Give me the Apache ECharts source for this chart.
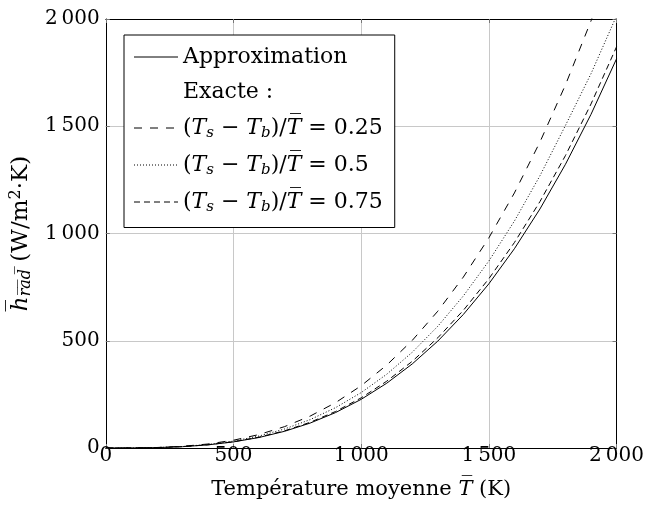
<!DOCTYPE html>
<html>
<head>
<meta charset="utf-8">
<script src="https://cdn.jsdelivr.net/npm/echarts@6/dist/echarts.min.js"></script>
<style>
html,body{margin:0;padding:0;background:#fff;}
#chart{width:647px;height:508px;}
</style>
</head>
<body>
<div id="chart"></div>
<script>
// Temperatures (K)
const temps = [0,100,200,300,400,500,600,700,800,900,1000,1100,1200,1300,1400,1500,1600,1700,1800,1900,2000];
// Approximation (W/m2.K)
const approx = [0,0.23,1.81,6.12,14.5,28.4,49.0,77.8,116.1,165.3,226.8,301.9,391.9,498.3,622.4,765.5,929.0,1114.3,1322.7,1555.7,1814.4];
// Exacte, (Ts-Tb)/T = 0.25  (upper, loosely dashed)
const exact025 = [0,0.29,2.32,7.84,18.6,36.3,62.7,99.6,148.6,211.6,290.3,386.4,501.6,637.8,796.7,979.8,1189.1,1426.3,1693.1,1991.3,2322.4];
// Exacte, (Ts-Tb)/T = 0.5 (dotted)
const exact05 = [0,0.26,2.06,6.95,16.5,32.3,55.8,88.6,132.2,188.3,258.3,343.8,446.3,567.5,708.8,871.8,1058.0,1269.0,1504.0,1745.0,2015.0];
// Exacte, (Ts-Tb)/T = 0.75 (densely dashed)
const exact075 = [0,0.24,1.87,6.31,14.96,29.2,50.5,80.2,119.7,170.4,233.8,311.3,404.1,513.7,641.7,789.2,957.8,1148.8,1363.7,1603.9,1870.6];
const xTicks = [0,500,1000,1500,2000];
const yTicks = [0,500,1000,1500,2000];
const ratios = ['0.25','0.5','0.75'];

const FF = 'DejaVu Serif';
const pair = arr => temps.map((t,i)=>[t,arr[i]]);
const fmtNum = v => { const s=String(v); return s.length>3 ? s.slice(0,-3)+'\u2009'+s.slice(-3) : s; };
const nameOf = r => '(Ts − Tb)/T = ' + r;

const richBase = (fs) => ({
  p:{fontFamily:FF,fontSize:fs,color:'#000'},
  i:{fontFamily:FF,fontSize:fs,fontStyle:'italic',color:'#000'},
  sub:{fontFamily:FF,fontSize:Math.round(fs*0.68),fontStyle:'italic',color:'#000',padding:[Math.round(fs*0.45),0,0,0]},
  sup:{fontFamily:FF,fontSize:Math.round(fs*0.68),color:'#000',padding:[0,0,Math.round(fs*0.45),0]}
});

const chart = echarts.init(document.getElementById('chart'), null, {renderer:'canvas'});
const lineCommon = {type:'line', showSymbol:false, symbol:'none', animation:false, clip:true};
const legendItem = (name, hideLine) => ({
  name:name,
  itemStyle:{opacity:0},
  lineStyle: hideLine ? {opacity:0} : {width:1}
});

const option = {
  animation:false,
  backgroundColor:'#fff',
  grid:{left:103.5, right:25.3, top:19, bottom:60, containLabel:false},
  xAxis:[{
    type:'value', min:xTicks[0], max:xTicks[xTicks.length-1], interval:500, position:'bottom',
    axisLine:{show:true,onZero:false,lineStyle:{color:'#000',width:1}},
    axisTick:{show:true,inside:true,length:4,lineStyle:{color:'#777'}},
    splitLine:{show:true,lineStyle:{color:'#c8c8c8',width:1}},
    axisLabel:{fontFamily:FF,fontSize:20,color:'#000',margin:1,lineHeight:14,formatter:fmtNum},
    name:'{p|Température moyenne }{i|T\u0305}{p| (K)}',
    nameLocation:'middle', nameGap:31,
    nameTextStyle:{rich:richBase(21)}
  },{
    type:'value', min:xTicks[0], max:xTicks[xTicks.length-1], interval:500, position:'top',
    axisLine:{show:true,onZero:false,lineStyle:{color:'#000',width:1}},
    axisTick:{show:true,inside:true,length:4,lineStyle:{color:'#777'}},
    splitLine:{show:false}, axisLabel:{show:false}
  }],
  yAxis:[{
    type:'value', min:yTicks[0], max:yTicks[yTicks.length-1], interval:500, position:'left',
    axisLine:{show:true,onZero:false,lineStyle:{color:'#000',width:1}},
    axisTick:{show:true,inside:true,length:4,lineStyle:{color:'#777'}},
    splitLine:{show:true,lineStyle:{color:'#c8c8c8',width:1}},
    axisLabel:{fontFamily:FF,fontSize:20,color:'#000',margin:6,formatter:fmtNum},
    name:'{i|h\u0305}{sub|r\u0305a\u0305d\u0305}{p| (W/m}{sup|2}{p|·K)}',
    nameLocation:'middle', nameGap:47, nameRotate:90,
    nameTextStyle:{rich:richBase(23)}
  },{
    type:'value', min:yTicks[0], max:yTicks[yTicks.length-1], interval:500, position:'right',
    axisLine:{show:true,onZero:false,lineStyle:{color:'#000',width:1}},
    axisTick:{show:true,inside:true,length:4,lineStyle:{color:'#777'}},
    splitLine:{show:false}, axisLabel:{show:false}
  }],
  legend:{
    orient:'vertical', left:124, top:35, selectedMode:false,
    backgroundColor:'#fff', borderColor:'#000', borderWidth:1,
    padding:[11,12,13,9], itemWidth:44, itemHeight:14, itemGap:13.5,
    textStyle:{fontFamily:FF,fontSize:22,color:'#000',rich:richBase(22)},
    formatter: function(name){
      if(name==='Approximation' || name==='Exacte :') return '{p|'+name+'}';
      const r = name.split('= ')[1];
      return '{p|(}{i|T}{sub|s}{p| − }{i|T}{sub|b}{p|)/}{i|T\u0305}{p| = '+r+'}';
    },
    data:[
      legendItem('Approximation', false),
      legendItem('Exacte :', true),
      legendItem(nameOf(ratios[0]), false),
      legendItem(nameOf(ratios[1]), false),
      legendItem(nameOf(ratios[2]), false)
    ]
  },
  series:[
    Object.assign({name:'Approximation', data:pair(approx), lineStyle:{color:'#000',width:1,type:'solid'}, itemStyle:{color:'#000'}}, lineCommon),
    Object.assign({name:'Exacte :', data:[], lineStyle:{color:'#000',width:1,opacity:0}, itemStyle:{color:'#000',opacity:0}}, lineCommon),
    Object.assign({name:nameOf(ratios[0]), data:pair(exact025), lineStyle:{color:'#000',width:1,type:[8,8]}, itemStyle:{color:'#000'}}, lineCommon),
    Object.assign({name:nameOf(ratios[1]), data:pair(exact05), lineStyle:{color:'#000',width:1,type:[1,2]}, itemStyle:{color:'#000'}}, lineCommon),
    Object.assign({name:nameOf(ratios[2]), data:pair(exact075), lineStyle:{color:'#000',width:1,type:[6,4]}, itemStyle:{color:'#000'}}, lineCommon)
  ]
};
chart.setOption(option);
</script>
</body>
</html>
